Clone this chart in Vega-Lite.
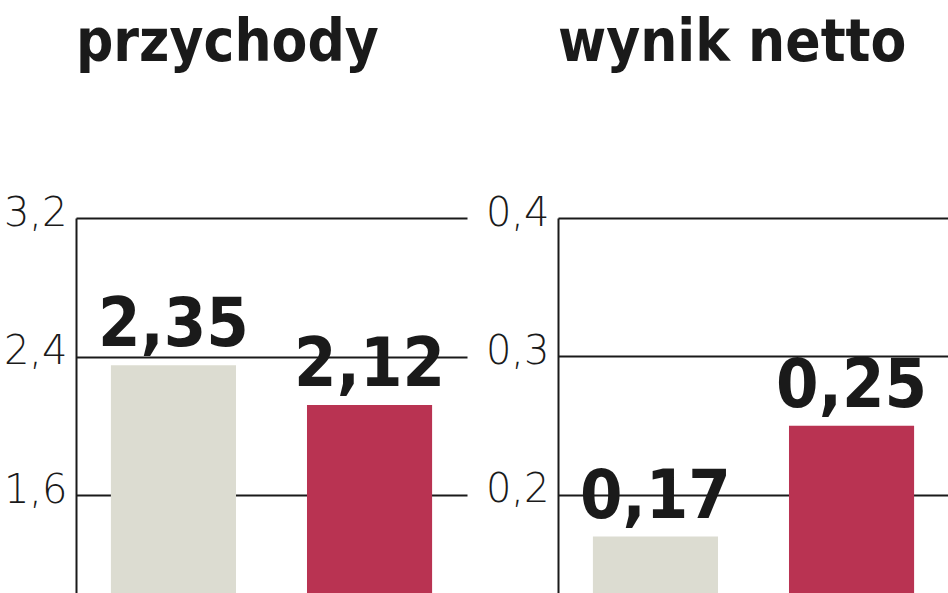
{
  "$schema": "https://vega.github.io/schema/vega-lite/v6.json",
  "background": "white",
  "padding": {"left": 3, "top": 15, "right": 0, "bottom": 0},
  "spacing": 18,
  "config": {
    "locale": {
      "number": {"decimal": ",", "thousands": " ", "grouping": [3], "currency": ["", " zł"]}
    },
    "view": {"stroke": null},
    "title": {
      "font": "DejaVu Sans Condensed",
      "fontWeight": "bold",
      "fontSize": 58,
      "anchor": "start",
      "frame": "group",
      "color": "#1a1a1a",
      "baseline": "alphabetic",
      "offset": 120
    },
    "axisY": {
      "title": null,
      "grid": true,
      "gridColor": "#1a1a1a",
      "gridWidth": 2,
      "domain": true,
      "domainColor": "#1a1a1a",
      "domainWidth": 2,
      "ticks": false,
      "labelFont": "DejaVu Sans",
      "labelFontWeight": 200,
      "labelFontSize": 40,
      "labelColor": "#1a1a1a",
      "labelPadding": 9,
      "labelBaseline": "alphabetic",
      "labelOffset": 7,
      "labelFlush": false,
      "labelOverlap": false,
      "labelBound": false
    }
  },
  "datasets": {
    "przychody": [
      {"okres": "poprzedni", "wartosc": 2.35},
      {"okres": "bieżący", "wartosc": 2.12}
    ],
    "wynik": [
      {"okres": "poprzedni", "wartosc": 0.17},
      {"okres": "bieżący", "wartosc": 0.25}
    ]
  },
  "hconcat": [
    {
      "title": "przychody",
      "width": 391,
      "height": 375,
      "data": {"name": "przychody"},
      "encoding": {
        "x": {
          "field": "okres",
          "type": "nominal",
          "sort": null,
          "axis": null,
          "scale": {"paddingInner": 0.362, "paddingOuter": 0.178}
        },
        "y": {
          "field": "wartosc",
          "type": "quantitative",
          "scale": {"domain": [1.034, 3.2], "zero": false, "nice": false},
          "axis": {"values": [1.6, 2.4, 3.2], "format": ".1f"}
        }
      },
      "layer": [
        {
          "mark": {"type": "bar", "clip": true},
          "encoding": {
            "color": {
              "field": "okres",
              "type": "nominal",
              "legend": null,
              "scale": {"domain": ["poprzedni", "bieżący"], "range": ["#dcdcd1", "#b93352"]}
            }
          }
        },
        {
          "mark": {
            "type": "text",
            "baseline": "alphabetic",
            "dy": -19,
            "font": "DejaVu Sans Condensed",
            "fontWeight": "bold",
            "fontSize": 68,
            "color": "#1a1a1a"
          },
          "encoding": {"text": {"field": "wartosc", "type": "quantitative", "format": ".2f"}}
        }
      ]
    },
    {
      "title": "wynik netto",
      "width": 391,
      "height": 375,
      "data": {"name": "wynik"},
      "encoding": {
        "x": {
          "field": "okres",
          "type": "nominal",
          "sort": null,
          "axis": null,
          "scale": {"paddingInner": 0.362, "paddingOuter": 0.178}
        },
        "y": {
          "field": "wartosc",
          "type": "quantitative",
          "scale": {"domain": [0.1292, 0.4], "zero": false, "nice": false},
          "axis": {"values": [0.2, 0.3, 0.4], "format": ".1f"}
        }
      },
      "layer": [
        {
          "mark": {"type": "bar", "clip": true},
          "encoding": {
            "color": {
              "field": "okres",
              "type": "nominal",
              "legend": null,
              "scale": {"domain": ["poprzedni", "bieżący"], "range": ["#dcdcd1", "#b93352"]}
            }
          }
        },
        {
          "mark": {
            "type": "text",
            "baseline": "alphabetic",
            "dy": -19,
            "font": "DejaVu Sans Condensed",
            "fontWeight": "bold",
            "fontSize": 68,
            "color": "#1a1a1a"
          },
          "encoding": {"text": {"field": "wartosc", "type": "quantitative", "format": ".2f"}}
        }
      ]
    }
  ]
}
